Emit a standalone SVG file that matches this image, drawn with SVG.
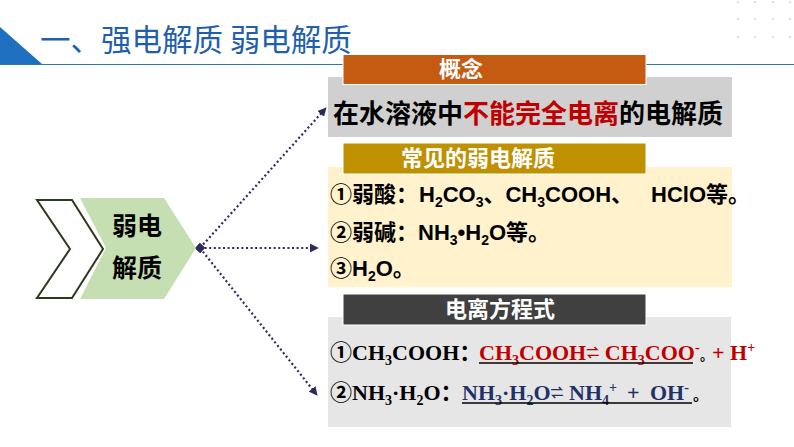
<svg xmlns="http://www.w3.org/2000/svg" width="794" height="447" viewBox="0 0 794 447">
<defs>
<style>
.cjk{font-family:"Noto Sans CJK SC","Noto Sans",sans-serif;font-weight:bold}
.hdr{font-family:"Noto Sans CJK SC",sans-serif;font-weight:bold;fill:#fff;font-size:22px;text-anchor:middle}
.sans{font-family:"Liberation Sans","Noto Sans CJK SC",sans-serif;font-weight:bold;font-size:22px;fill:#000}
.serif{font-family:"Liberation Serif","Noto Sans CJK SC",serif;font-weight:bold;font-size:22px;fill:#000}
.sub{font-size:14px}
.red{fill:#C00000}
.navy{fill:#1F3268}
.con{fill:none;stroke:#2E2A5C;stroke-width:2.2;stroke-dasharray:2 2.6}
.dot{fill:#DCE0E6}
</style>
<marker id="ah" viewBox="0 0 10 10" refX="9" refY="5" markerWidth="4" markerHeight="4" orient="auto" markerUnits="strokeWidth">
<path d="M0,0 L10,5 L0,10 Z" fill="#2E2A5C"/>
</marker>
<marker id="st" viewBox="0 0 10 10" refX="5" refY="5" markerWidth="3.4" markerHeight="3.4" orient="auto" markerUnits="strokeWidth">
<rect x="0" y="0" width="10" height="10" fill="#2E2A5C"/>
</marker>
</defs>
<rect width="794" height="447" fill="#fff"/>

<g id="decor">
<circle class="dot" cx="738" cy="2" r="1.2"/><circle class="dot" cx="755" cy="2" r="1.2"/><circle class="dot" cx="773" cy="2" r="1.2"/><circle class="dot" cx="790" cy="2" r="1.2"/>
<circle class="dot" cx="738" cy="19" r="1.2"/><circle class="dot" cx="755" cy="19" r="1.2"/><circle class="dot" cx="773" cy="19" r="1.2"/><circle class="dot" cx="790" cy="19" r="1.2"/>
<circle class="dot" cx="738" cy="37" r="1.2"/><circle class="dot" cx="755" cy="37" r="1.2"/><circle class="dot" cx="773" cy="37" r="1.2"/><circle class="dot" cx="790" cy="37" r="1.2"/>
</g>

<g id="title">
<polygon points="0,27 0,64 42,64" fill="#1F6FC0"/>
<line x1="0" y1="64.5" x2="794" y2="64.5" stroke="#2E75B6" stroke-width="1.2"/>
<text x="40" y="51" font-family="Noto Sans CJK SC,sans-serif" font-size="30.5" fill="#1F5FAD">一、强电解质 弱电解质</text>
</g>

<g id="connectors">
<line class="con" x1="200" y1="248" x2="326" y2="108" marker-start="url(#st)" marker-end="url(#ah)"/>
<line class="con" x1="200" y1="248" x2="318" y2="248" marker-end="url(#ah)"/>
<line class="con" x1="200" y1="248" x2="317" y2="395" marker-end="url(#ah)"/>
</g>

<g id="chevron-outline">
<polygon points="37,200 72,200 103,249 72,298 37,298 70,249" fill="#fff" stroke="#2B3A1E" stroke-width="2"/>
</g>

<g id="node-weak">
<polygon points="80,198 164,198 196,248 164,299 80,299 106,248" fill="#C5DFB3"/>
<text class="cjk" x="137" y="235" font-size="25" text-anchor="middle" fill="#000">弱电</text>
<text class="cjk" x="137" y="277" font-size="25" text-anchor="middle" fill="#000">解质</text>
</g>

<g id="concept">
<rect x="328" y="77" width="404" height="60" fill="#D0D0D0"/>
<rect x="343" y="54.5" width="303" height="30" fill="#C55A11" stroke="#fff" stroke-width="1"/>
<text class="hdr" x="461" y="77" font-size="21">概念</text>
<text class="cjk" x="333" y="123" font-size="26" fill="#000">在水溶液中<tspan fill="#C00000">不能完全电离</tspan>的电解质</text>
</g>

<g id="common">
<rect x="328" y="167" width="404" height="120" fill="#FFF2CC"/>
<rect x="343" y="143" width="303" height="31" fill="#BF9000" stroke="#fff" stroke-width="1"/>
<text class="hdr" x="478" y="166">常见的弱电解质</text>
<text class="sans" x="330" y="202">①弱酸：<tspan x="419">H</tspan><tspan class="sub" dy="5">2</tspan><tspan dy="-5">CO</tspan><tspan class="sub" dy="5">3</tspan><tspan dy="-5">、CH</tspan><tspan class="sub" dy="5">3</tspan><tspan dy="-5">COOH、</tspan><tspan x="651">HClO等。</tspan></text>
<text class="sans" x="330" y="240">②弱碱：NH<tspan class="sub" dy="5">3</tspan><tspan dy="-5">•H</tspan><tspan class="sub" dy="5">2</tspan><tspan dy="-5">O等。</tspan></text>
<text class="sans" x="330" y="276">③H<tspan class="sub" dy="5">2</tspan><tspan dy="-5">O。</tspan></text>
</g>

<g id="equation">
<rect x="328" y="317" width="403" height="110" fill="#E6E6E6"/>
<rect x="343" y="294" width="303" height="31" fill="#404040" stroke="#fff" stroke-width="1"/>
<text class="hdr" x="500" y="317" font-size="23">电离方程式</text>
<text class="serif" x="330" y="360">①CH<tspan class="sub" dy="5">3</tspan><tspan dy="-5">COOH：</tspan><tspan class="red" x="479">CH</tspan><tspan class="sub red" dy="5">3</tspan><tspan dy="-5" class="red">COOH</tspan><tspan font-size="13" dy="-3" class="red">⇌</tspan><tspan dy="3" class="red"> CH</tspan><tspan class="sub red" dy="5">3</tspan><tspan dy="-5" class="red">COO</tspan><tspan class="sub red" dy="-8">-</tspan><tspan dy="8" x="700" font-size="13">。</tspan><tspan class="red" x="712">+ H</tspan><tspan class="sub red" dy="-8">+</tspan></text>
<line x1="479" y1="363" x2="693" y2="363" stroke="#000" stroke-width="1.3"/>
<text class="serif" x="330" y="400">②NH<tspan class="sub" dy="5">3</tspan><tspan dy="-5">·H</tspan><tspan class="sub" dy="5">2</tspan><tspan dy="-5">O：</tspan><tspan class="navy" x="462">NH</tspan><tspan class="sub navy" dy="5">3</tspan><tspan dy="-5" class="navy">·H</tspan><tspan class="sub navy" dy="5">2</tspan><tspan dy="-5" class="navy">O</tspan><tspan font-size="13" dy="-3" class="navy">⇌</tspan><tspan dy="3" class="navy"> NH</tspan><tspan class="sub navy" dy="5">4</tspan><tspan class="sub navy" dy="-13">+</tspan><tspan dy="8" class="navy" x="627">+</tspan><tspan class="navy" x="650">OH</tspan><tspan class="sub navy" dy="-8">-</tspan><tspan dy="8" x="693" font-size="15">。</tspan></text>
<line x1="462" y1="403" x2="692" y2="403" stroke="#000" stroke-width="1.3"/>
</g>
</svg>
